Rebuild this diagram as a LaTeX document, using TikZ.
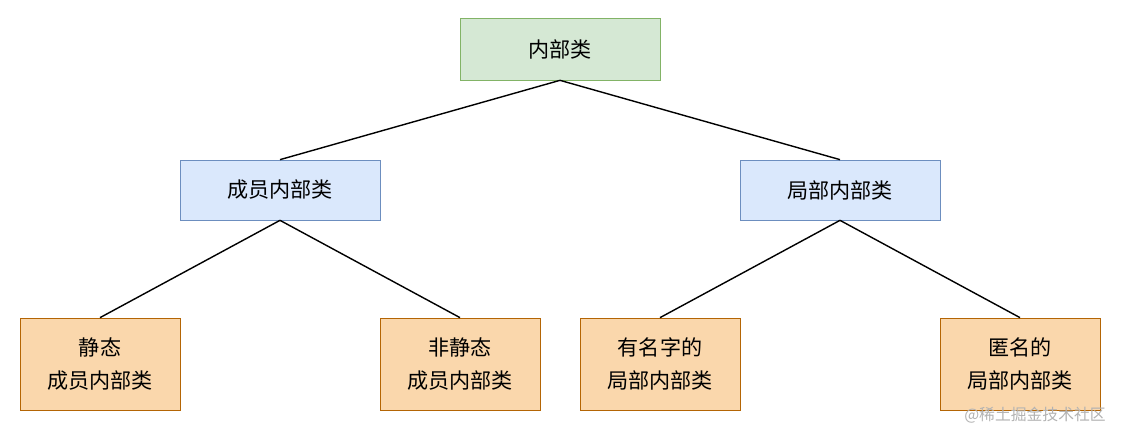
\documentclass[tikz,border=0pt]{standalone}
\usepackage{fontspec}
\newfontfamily\cjk{Noto Sans CJK SC}
\usetikzlibrary{positioning}
\definecolor{rootfill}{HTML}{D5E8D4}\definecolor{rootdraw}{HTML}{82B366}
\definecolor{midfill}{HTML}{DAE8FC}\definecolor{middraw}{HTML}{6C8EBF}
\definecolor{leaffill}{HTML}{FAD7AC}\definecolor{leafdraw}{HTML}{B46504}
\tikzset{
  rootbox/.style={draw=rootdraw,fill=rootfill,minimum width=4cm,minimum height=1.24cm},
  midbox/.style={draw=middraw,fill=midfill,minimum width=4cm,minimum height=1.2cm},
  leafbox/.style={draw=leafdraw,fill=leaffill,minimum width=3.2cm,minimum height=1.84cm,align=center},
  link/.style={thick}
}
\begin{document}
\begin{tikzpicture}[x=0.02cm,y=-0.02cm,font=\cjk\fontsize{12}{19}\selectfont]
    \useasboundingbox (0,0) rectangle (1121,431);

	\node [rootbox] (inner) at (560,49) {内部类};
	\node [midbox] (member) at (280,190) {成员内部类};
	\node [midbox] (local) at (840,190) {局部内部类};

	\node [leafbox] (static) at (100,364) {静态\\成员内部类};
	\node [leafbox] (nonstatic) at (460,364) {非静态\\成员内部类};
	\node [leafbox] (named) at (660,364) {有名字的\\局部内部类};
	\node [leafbox] (anon) at (1020,364) {匿名的\\局部内部类};

	\draw [link] (inner.south) -- (member.north);
	\draw [link] (inner.south) -- (local.north);
	\draw [link] (member.south) -- (static.north);
	\draw [link] (member.south) -- (nonstatic.north);
	\draw [link] (local.south) -- (named.north);
	\draw [link] (local.south) -- (anon.north);

	\node [gray!60,font=\cjk\fontsize{9}{11}\selectfont] (mark) at (1035,415) {@稀土掘金技术社区};
\end{tikzpicture}
\end{document}
